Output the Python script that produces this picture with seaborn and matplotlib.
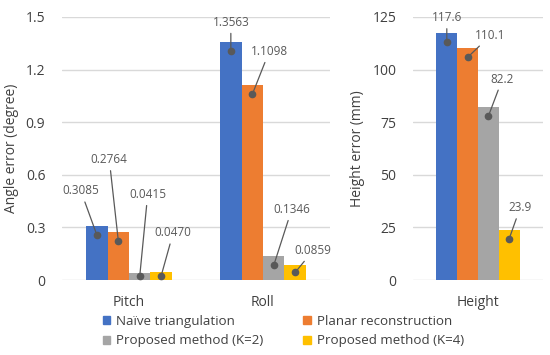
import matplotlib
matplotlib.use("Agg")
from matplotlib import pyplot as plt
from matplotlib.transforms import offset_copy
import pandas as pd
import seaborn as sns

methods = ["Naïve triangulation", "Planar reconstruction",
           "Proposed method (K=2)", "Proposed method (K=4)"]
angle_categories = ["Pitch", "Roll"]
pitch_errors = [0.3085, 0.2764, 0.0415, 0.0470]
roll_errors = [1.3563, 1.1098, 0.1346, 0.0859]
height_categories = ["Height"]
height_errors = [117.6, 110.1, 82.2, 23.9]

angle_ticks = [0, 0.3, 0.6, 0.9, 1.2, 1.5]
angle_tick_labels = ["0", "0.3", "0.6", "0.9", "1.2", "1.5"]
height_ticks = [0, 25, 50, 75, 100, 125]

colors = ["#4472C4", "#ED7D31", "#A5A5A5", "#FFC000"]

# label positions relative to the dot, in pixels (layout only)
angle_label_offsets = [[(-16, 44), (-9, 81), (8, 82), (12, 43)],
                       [(0, 29), (17, 43), (18, 56), (18, 22)]]
height_label_offsets = [[(0, 24), (23, 22), (14, 37), (11, 31)]]

angle_df = pd.DataFrame({
    "category": [c for c in angle_categories for _ in methods],
    "method": methods * len(angle_categories),
    "value": pitch_errors + roll_errors,
})
height_df = pd.DataFrame({
    "category": height_categories * len(methods),
    "method": methods,
    "value": height_errors,
})

sns.set_theme(style="white")
plt.rcParams["font.family"] = ["Open Sans", "DejaVu Sans"]

fig = plt.figure(figsize=(5.5, 3.55), dpi=100)
ax1 = fig.add_axes([62 / 550, 75 / 355, 268 / 550, 263 / 355])
ax2 = fig.add_axes([413 / 550, 75 / 355, 130 / 550, 263 / 355])

text_gray = "#595959"


def draw_panel(ax, df, ymax, ticks, tick_labels, ylabel, offsets):
    sns.barplot(data=df, x="category", y="value", hue="method", hue_order=methods,
                palette=colors, width=0.64, gap=0, saturation=1, ax=ax,
                errorbar=None, linewidth=0)
    n_cat = df["category"].nunique()
    ax.set_yticks(ticks)
    ax.set_yticklabels(tick_labels)
    ax.set_xlabel("")
    ax.set_ylabel(ylabel, fontsize=10, color="#404040", labelpad=5)
    ax.yaxis.grid(True, color="#D9D9D9", lw=1)
    ax.set_axisbelow(True)
    for s in ax.spines.values():
        s.set_visible(False)
    ax.tick_params(axis="both", length=0, labelsize=10, colors="#404040")
    ax.tick_params(axis="y", pad=12)
    ax.tick_params(axis="x", pad=11)
    px_per_unit = 263 / ymax
    for h, container in enumerate(ax.containers):
        for c, bar in enumerate(container):
            v = bar.get_height()
            xc = bar.get_x() + bar.get_width() / 2
            drop = min(9, v * px_per_unit / 2)
            trans = offset_copy(ax.transData, fig=fig, y=-drop, units="dots")
            dx, dy = offsets[c][h]
            ax.annotate(f"{v:.4f}" if ymax < 10 else f"{v:.1f}",
                        xy=(xc, v), xycoords=trans,
                        xytext=(dx, dy), textcoords="offset pixels",
                        ha="center", va="center", fontsize=8.5, color=text_gray,
                        arrowprops=dict(arrowstyle="-", color=text_gray, lw=0.9,
                                        shrinkA=1, shrinkB=0))
            ax.plot([xc], [v], "o", ms=4.5, color=text_gray, transform=trans,
                    zorder=5)
    ax.get_legend().remove()
    ax.set_xlim(-0.5, n_cat - 0.5)
    ax.set_ylim(0, ymax)


draw_panel(ax1, angle_df, 1.5, angle_ticks, angle_tick_labels,
           "Angle error (degree)", angle_label_offsets)
draw_panel(ax2, height_df, 125, height_ticks, [str(t) for t in height_ticks],
           "Height error (mm)", height_label_offsets)

# legend is filled row by row in the reference
order = [0, 2, 1, 3]
handles = [plt.Rectangle((0, 0), 1, 1, color=colors[i]) for i in order]
fig.legend(handles, [methods[i] for i in order], ncol=2, loc="upper left",
           bbox_to_anchor=(96 / 550, 47 / 355), frameon=False,
           fontsize=9.6, handlelength=0.55, handleheight=0.55,
           handletextpad=0.45, columnspacing=3.0, labelspacing=0.5,
           borderpad=0, labelcolor="#404040")

fig.savefig("out.png", dpi=100)
